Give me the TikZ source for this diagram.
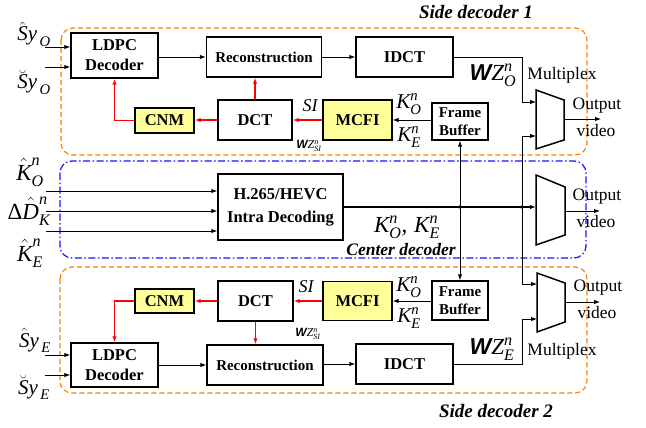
\documentclass[tikz,border=0pt]{standalone}
\usepackage{amsmath}
\usepackage{fontspec}
\setmainfont{Liberation Serif}
\newfontfamily\sansW{Liberation Sans}
\usetikzlibrary{arrows.meta,calc}

\definecolor{sideorange}{RGB}{255,128,0}
\definecolor{centerblue}{RGB}{20,20,255}
\definecolor{cnmyellow}{RGB}{255,255,153}

% italic text letters inside math
\newcommand\itx[1]{\text{\normalfont\itshape #1}}
\newcommand\wz{\text{\sansW\bfseries\itshape W}\itx{Z}}

\tikzset{
  blk/.style={draw, line width=1.4pt, fill=white, align=center, inner sep=0pt,
    font=\fontsize{16.5}{20}\selectfont\bfseries},
  blksm/.style={blk, font=\fontsize{15}{18}\selectfont\bfseries},
  hl/.style={blk, fill=cnmyellow},
  arr/.style={-{Latex[length=6pt,width=4.5pt]}, line width=0.9pt},
  redarr/.style={arr, draw=red, color=red, line width=1.2pt},
  muxline/.style={line width=1.5pt, line join=miter},
  sidebox/.style={draw=sideorange, line width=1.2pt, rounded corners=12pt,
    dash pattern=on 5pt off 3pt},
  centerbox/.style={draw=centerblue, line width=1.2pt, rounded corners=12pt,
    dash pattern=on 7pt off 2.5pt on 1.5pt off 2.5pt},
  plain/.style={inner sep=0pt, font=\fontsize{17.5}{18}\selectfont},
  title/.style={inner sep=0pt, font=\fontsize{19}{20}\selectfont\bfseries\itshape},
  mlab/.style={inner sep=0pt, font=\fontsize{23}{24}\selectfont},
  mlabs/.style={inner sep=0pt, font=\fontsize{21}{22}\selectfont},
  mlabt/.style={inner sep=0pt, font=\fontsize{12}{13}\selectfont},
}

\begin{document}
\begin{tikzpicture}[x=1pt,y=-1pt]
\useasboundingbox (0,0) rectangle (646,428);

% decoder regions
\draw[sidebox] (61,28) rectangle (587,155);
\draw[centerbox] (60,161) rectangle (586,258);
\draw[sidebox] (60,267) rectangle (587,393);

\node[title] (t1) at (476,12) {Side decoder 1};
\node[title] (t2) at (496,411) {Side decoder 2};
\node[title, font=\fontsize{17.5}{18}\selectfont\bfseries\itshape] (t3) at (401,250) {Center decoder};

% ---- side decoder 1 ----
\node[blk, minimum width=87pt, minimum height=45pt] (ldpc1) at (114.5,55.5) {LDPC\\Decoder};
\node[blksm, minimum width=115pt, minimum height=40pt] (rec1) at (264,57) {Reconstruction};
\node[blk, minimum width=97pt, minimum height=40pt] (idct1) at (404.5,57) {IDCT};
\node[blk, minimum width=74pt, minimum height=40pt] (dct1) at (255,120) {DCT};
\node[hl, minimum width=59pt, minimum height=25pt] (cnm1) at (164.5,120.5) {CNM};
\node[hl, minimum width=69pt, minimum height=40pt] (mcfi1) at (357.5,120) {MCFI};
\node[blksm, minimum width=56pt, minimum height=37pt] (fb1) at (460,121.5) {Frame\\Buffer};

% ---- center decoder ----
\node[blk, font=\fontsize{16.5}{23}\selectfont\bfseries, minimum width=125pt, minimum height=66pt] (hevc) at (280.5,207) {H.265/HEVC\\Intra Decoding};

% ---- side decoder 2 ----
\node[hl, minimum width=59pt, minimum height=24pt] (cnm2) at (164.5,301) {CNM};
\node[blk, minimum width=75pt, minimum height=40pt] (dct2) at (255.5,301) {DCT};
\node[hl, minimum width=69pt, minimum height=39pt] (mcfi2) at (357.5,301) {MCFI};
\node[blksm, minimum width=56pt, minimum height=39pt] (fb2) at (460,300.5) {Frame\\Buffer};
\node[blk, minimum width=87pt, minimum height=44pt] (ldpc2) at (114.5,365) {LDPC\\Decoder};
\node[blksm, minimum width=116pt, minimum height=40pt] (rec2) at (265,365) {Reconstruction};
\node[blk, minimum width=97pt, minimum height=40pt] (idct2) at (404.5,364) {IDCT};

% ---- multiplexers ----
\draw[muxline] (536,90) -- (564,100) -- (564,140) -- (536,149) -- cycle;
\draw[muxline] (536,175) -- (565,187) -- (565,235) -- (536,245) -- cycle;
\draw[muxline] (537,273) -- (565,283) -- (565,322) -- (537,332) -- cycle;
\coordinate (m1in1) at (536,102);
\coordinate (m1in2) at (536,136);
\coordinate (m2in) at (536,207);
\coordinate (m3in1) at (537,284);
\coordinate (m3in2) at (537,319);
\coordinate (m1out) at (564,119);
\coordinate (o1) at (601,119);
\coordinate (m2out) at (565,211);
\coordinate (o2) at (600,211);
\coordinate (m3out) at (565,302);
\coordinate (o3) at (600,302);
\draw[arr] (m1out) -- (o1);
\draw[arr] (m2out) -- (o2);
\draw[arr] (m3out) -- (o3);

\node[plain] (mx1) at (562,75) {Multiplex};
\node[plain] (mx2) at (562,351) {Multiplex};
\node[plain] (out1) at (597,106) {Output};
\node[plain] (vid1) at (596,131) {video};
\node[plain] (out2) at (597,197) {Output};
\node[plain] (vid2) at (596,222) {video};
\node[plain] (out3) at (598,288) {Output};
\node[plain] (vid3) at (597,313) {video};

% ---- inputs ----
\coordinate (sO1) at (45,47);
\coordinate (sO2) at (45,67);
\coordinate (kO) at (46,191);
\coordinate (dK) at (46,211);
\coordinate (kE) at (46,231);
\coordinate (sE1) at (45,355);
\coordinate (sE2) at (45,375);
\draw[arr] (sO1) -- (sO1 -| ldpc1.west);
\draw[arr] (sO2) -- (sO2 -| ldpc1.west);
\draw[arr] (kO) -- (kO -| hevc.west);
\draw[arr] (dK) -- (dK -| hevc.west);
\draw[arr] (kE) -- (kE -| hevc.west);
\draw[arr] (sE1) -- (sE1 -| ldpc2.west);
\draw[arr] (sE2) -- (sE2 -| ldpc2.west);

\node[mlabs] (lsO1) at (34,34) {$\hat{\itx{S}}\itx{y}_{\,\itx{O}}$};
\node[mlabs] (lsO2) at (34,82) {$\breve{\itx{S}}\itx{y}_{\,\itx{O}}$};
\node[mlab] (lkO) at (30,172) {$\hat{\itx{K}}^{\itx{n}}_{\itx{O}}$};
\node[mlab] (ldK) at (29,211) {$\text{\normalfont Δ}\hat{\itx{D}}^{\itx{n}}_{\itx{K}}$};
\node[mlab] (lkE) at (30,253) {$\hat{\itx{K}}^{\itx{n}}_{\itx{E}}$};
\node[mlabs] (lsE1) at (35,340) {$\hat{\itx{S}}\itx{y}_{\,\itx{E}}$};
\node[mlabs] (lsE2) at (34,387) {$\breve{\itx{S}}\itx{y}_{\,\itx{E}}$};

% ---- side decoder 1 connections ----
\draw[arr] (ldpc1.east |- rec1) -- (rec1.west);
\draw[arr] (rec1.east) -- (idct1.west);
\draw[redarr] (cnm1.west) -| (ldpc1.south);
\draw[redarr] (dct1.west) -- (dct1.west -| cnm1.east);
\draw[redarr] (dct1.north) -- (dct1.north |- rec1.south);
\draw[redarr] (mcfi1.west) -- (dct1.east);
\draw[arr] (fb1.west |- mcfi1) -- (mcfi1.east);

% ---- center connections ----
\coordinate (jfb) at (460,207);
\coordinate (jmx) at (522,207);
\draw[arr, line width=1.2pt] (hevc.east) -- (m2in);
\draw[arr] (jfb) -- (fb1.south);
\draw[arr] (jfb) -- (fb2.north);
\draw[arr] (jmx) |- (m1in2);
\draw[arr] (jmx) |- (m3in1);
\draw[arr] (idct1.east) -- (idct1.east -| jmx) |- (m1in1);
\fill (jfb) circle (1.8pt);
\fill (jmx) circle (1.8pt);

% ---- side decoder 2 connections ----
\draw[redarr] (cnm2.west) -| (ldpc2.north);
\draw[redarr] (dct2.west) -- (dct2.west -| cnm2.east);
\draw[redarr] (dct2.south) -- (dct2.south |- rec2.north);
\draw[redarr] (mcfi2.west) -- (mcfi2.west -| dct2.east);
\draw[arr] (fb2.west |- mcfi2) -- (mcfi2.east);
\draw[arr] (ldpc2.east |- rec2) -- (rec2.west);
\draw[arr] (rec2.east |- idct2) -- (idct2.west);
\draw[arr] (idct2.east) -- (idct2.east -| jmx) |- (m3in2);

% ---- signal labels ----
\node[mlabs] (kO1) at (409,104) {$\itx{K}^{\itx{n}}_{\itx{O}}$};
\node[mlabs] (kE1) at (409,137) {$\itx{K}^{\itx{n}}_{\itx{E}}$};
\node[mlabs] (kO2) at (409,287) {$\itx{K}^{\itx{n}}_{\itx{O}}$};
\node[mlabs] (kE2) at (409,318) {$\itx{K}^{\itx{n}}_{\itx{E}}$};
\node[mlab] (kOE) at (407,227) {$\itx{K}^{\itx{n}}_{\itx{O}}\text{\normalfont ,}\;\itx{K}^{\itx{n}}_{\itx{E}}$};
\node[inner sep=0pt, font=\fontsize{18}{19}\selectfont\itshape] (si1) at (310,106) {SI};
\node[inner sep=0pt, font=\fontsize{18}{19}\selectfont\itshape] (si2) at (306,287) {SI};
\node[mlabt] (wzs1) at (309,146) {$\wz^{\itx{n}}_{\itx{SI}}$};
\node[mlabt] (wzs2) at (308,334) {$\wz^{\itx{n}}_{\itx{SI}}$};
\node[mlab] (wzO) at (493,75) {$\wz^{\itx{n}}_{\itx{O}}$};
\node[mlab] (wzE) at (492,349) {$\wz^{\itx{n}}_{\itx{E}}$};

\end{tikzpicture}
\end{document}
